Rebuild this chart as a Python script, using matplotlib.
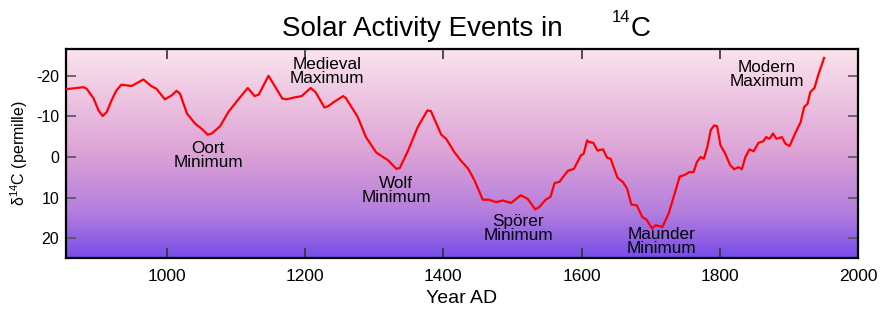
import numpy as np
import matplotlib
matplotlib.use("Agg")
import matplotlib.pyplot as plt
from matplotlib.colors import LinearSegmentedColormap

plt.rcParams['font.family'] = ['Liberation Sans', 'DejaVu Sans']
plt.rcParams['mathtext.fontset'] = 'custom'
plt.rcParams['mathtext.rm'] = 'Liberation Sans'
plt.rcParams['axes.unicode_minus'] = False

# delta 14C record (year AD, permille)
years = [854, 879, 884, 894, 901, 907, 913, 920, 927, 934, 949, 966, 977, 985, 997,
         1007, 1014, 1019, 1029, 1041, 1050, 1059, 1065, 1077, 1089, 1101, 1117,
         1127, 1133, 1147, 1152, 1167, 1173, 1185, 1195, 1208, 1215, 1228, 1233,
         1243, 1255, 1259, 1276, 1288, 1303, 1320, 1332, 1337, 1349, 1363, 1377,
         1382, 1397, 1404, 1416, 1425, 1436, 1445, 1457, 1466, 1476, 1486, 1498,
         1512, 1522, 1533, 1539, 1548, 1555, 1561, 1568, 1580, 1589, 1599, 1603,
         1608, 1611, 1617, 1623, 1631, 1637, 1642, 1652, 1660, 1666, 1672, 1680,
         1688, 1694, 1702, 1707, 1717, 1726, 1734, 1742, 1748, 1756, 1762, 1767,
         1772, 1777, 1782, 1787, 1792, 1796, 1801, 1808, 1815, 1821, 1827, 1832,
         1837, 1843, 1849, 1856, 1863, 1867, 1872, 1877, 1882, 1890, 1895, 1901,
         1909, 1917, 1922, 1927, 1931, 1937, 1943, 1951]
d14c = [-16.7, -17.2, -16.8, -14.4, -11.5, -10.1, -11.1, -14.0, -16.4, -17.8, -17.5,
        -19.1, -17.5, -16.8, -14.2, -15.2, -16.3, -15.6, -10.7, -8.2, -7.0, -5.5,
        -5.8, -7.6, -11.1, -13.7, -17.0, -15.0, -15.4, -20.0, -18.6, -14.4, -14.2,
        -14.7, -15.0, -17.0, -16.0, -12.2, -12.5, -13.7, -15.0, -14.5, -9.9, -4.9,
        -1.1, 0.8, 2.9, 2.7, -1.6, -7.4, -11.5, -11.3, -5.5, -4.5, -1.2, 0.8, 2.9,
        5.7, 10.5, 10.5, 11.1, 10.7, 11.3, 9.4, 10.3, 12.9, 12.3, 10.5, 9.8, 6.4,
        6.1, 3.4, 2.9, -0.4, -0.8, -4.1, -3.7, -3.5, -1.6, -1.9, 0.2, 0.4, 5.1, 6.2,
        7.8, 11.7, 11.9, 14.8, 15.4, 17.6, 16.8, 17.2, 13.9, 9.4, 4.8, 4.5, 3.7,
        3.7, 1.2, 0.0, 0.4, -2.5, -6.7, -7.8, -7.6, -2.9, -0.8, 2.0, 3.0, 2.5, 3.0,
        0.0, -1.9, -1.4, -3.5, -3.9, -4.9, -4.5, -5.8, -4.5, -4.9, -3.3, -2.7, -5.8,
        -8.6, -12.3, -13.1, -16.0, -17.0, -20.5, -24.4]

event_labels = ["Medieval\nMaximum", "Oort\nMinimum", "Wolf\nMinimum",
                "Spörer\nMinimum", "Maunder\nMinimum", "Modern\nMaximum"]
event_x = [1232, 1060, 1332, 1508, 1716, 1868]
event_y = [-21.1, -0.4, 8.2, 17.6, 20.8, -20.4]

xticks = [1000, 1200, 1400, 1600, 1800, 2000]
yticks = [-20, -10, 0, 10, 20]

fig = plt.figure(figsize=(8.85, 3.25), dpi=100)
ax = fig.add_axes([0.0746, 0.2062, 0.8949, 0.643])

xmin, xmax = 854, 2000
ytop, ybot = -26.6, 24.85

# vertical pink -> purple background
cmap = LinearSegmentedColormap.from_list(
    "bg", [(0.0, "#fbe3ec"), (0.5, "#dca2d6"), (0.78, "#b47edd"), (1.0, "#784de9")])
grad = np.linspace(0, 1, 256).reshape(-1, 1)
ax.imshow(grad, cmap=cmap, aspect='auto', extent=[xmin, xmax, ybot, ytop],
          origin='upper', zorder=0)

ax.plot(years, d14c, color='#ff0000', lw=1.6, zorder=3)

for lab, x, y in zip(event_labels, event_x, event_y):
    ax.text(x, y, lab, ha='center', va='center', fontsize=12.3,
            linespacing=0.92, zorder=4)

ax.set_xlim(xmin, xmax)
ax.set_ylim(ybot, ytop)
ax.set_xticks(xticks)
ax.set_yticks(yticks)
ax.tick_params(axis='x', direction='in', length=7, width=1.2, top=True,
               labelsize=12.5, pad=8, color='#333333')
ax.tick_params(axis='y', direction='in', length=7, width=1.2, right=True,
               labelsize=11.5, pad=5, color='#555555')
for s in ax.spines.values():
    s.set_linewidth(1.6)

ax.set_xlabel("Year AD", fontsize=14, labelpad=4)
ax.set_ylabel(r"δ$^{14}$C (permille)", fontsize=11.5, labelpad=4)

# title, with the isotope superscript set apart as in the original
fig.text(282 / 885, 1 - 36 / 325, "Solar Activity Events in", fontsize=20,
         ha='left', va='baseline')
fig.text(612 / 885, 1 - 22 / 325, "14", fontsize=12, ha='left', va='baseline')
fig.text(631 / 885, 1 - 36 / 325, "C", fontsize=20, ha='left', va='baseline')

fig.savefig("out.png", dpi=100)
